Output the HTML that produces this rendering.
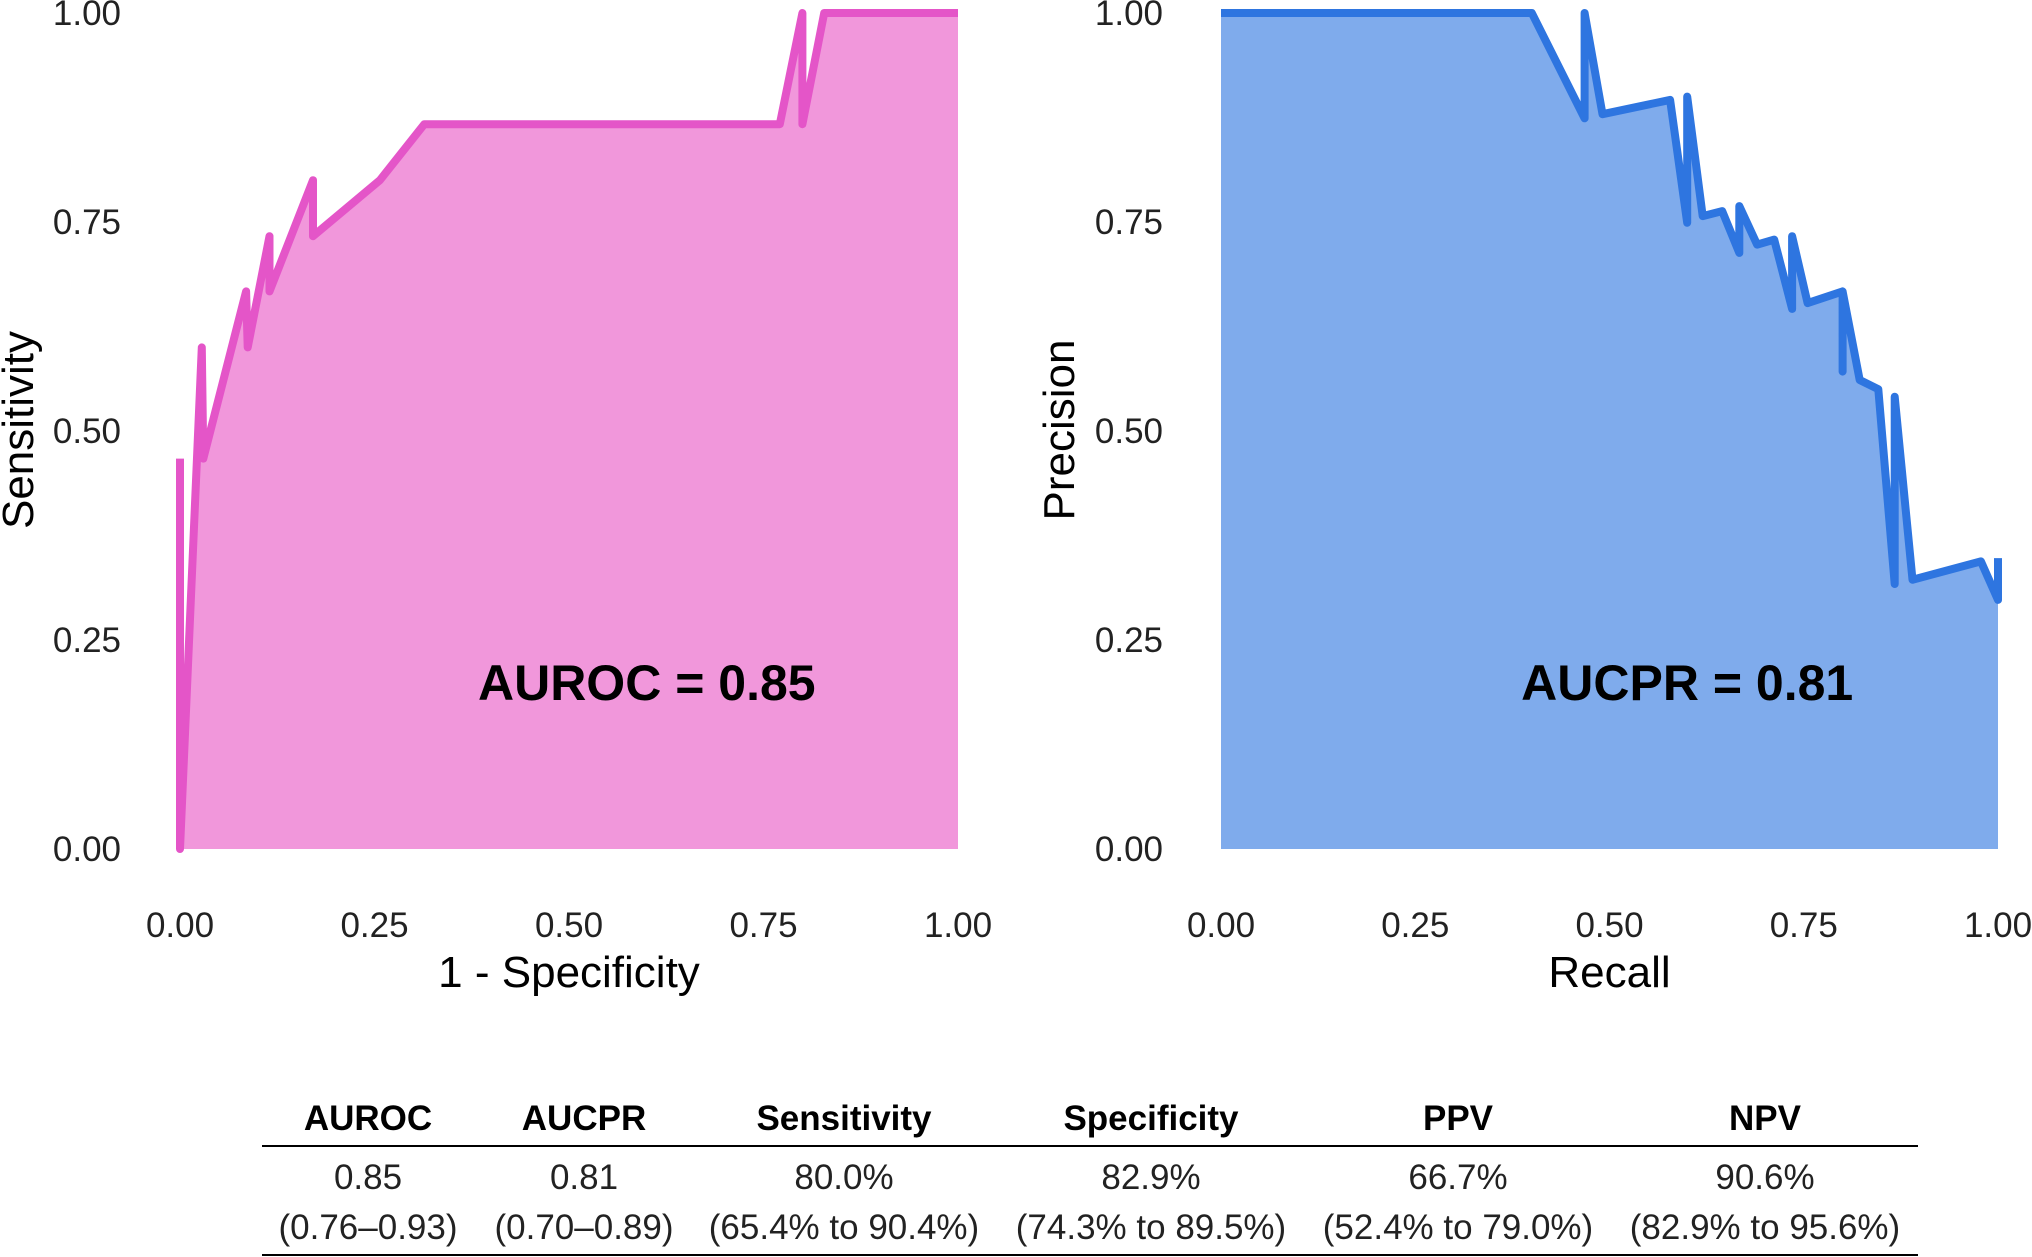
<!DOCTYPE html>
<html><head><meta charset="utf-8"><style>
html,body{margin:0;padding:0;background:#fff}
svg{display:block;font-family:"Liberation Sans",Arial,sans-serif}
</style></head><body>
<svg id="chart" width="2032" height="1257" viewBox="0 0 2032 1257" xmlns="http://www.w3.org/2000/svg"></svg>
<script>
// ROC data
const rocFpr = [0,0,0.028,0.030,0.085,0.087,0.115,0.115,0.171,0.171,0.257,0.314,0.771,0.8,0.8,0.828,1];
const rocTpr = [0.467,0,0.6,0.467,0.667,0.6,0.733,0.667,0.8,0.733,0.8,0.867,0.867,1,0.867,1,1];
// PR data
const prRecall = [0,0.4,0.468,0.468,0.491,0.578,0.6,0.6,0.62,0.645,0.667,0.667,0.69,0.712,0.735,0.735,0.755,0.8,0.8,0.8,0.822,0.846,0.867,0.867,0.89,0.978,1,1];
const prPrecision = [1,1,0.874,1,0.879,0.896,0.749,0.9,0.757,0.763,0.713,0.769,0.723,0.729,0.646,0.733,0.653,0.667,0.571,0.667,0.561,0.55,0.317,0.541,0.322,0.344,0.298,0.348];
const tickVals = [0,0.25,0.5,0.75,1];
const tickLabels = ["0.00","0.25","0.50","0.75","1.00"];
const tableHeaders = ["AUROC","AUCPR","Sensitivity","Specificity","PPV","NPV"];
const tableRow1 = ["0.85","0.81","80.0%","82.9%","66.7%","90.6%"];
const tableRow2 = ["(0.76–0.93)","(0.70–0.89)","(65.4% to 90.4%)","(74.3% to 89.5%)","(52.4% to 79.0%)","(82.9% to 95.6%)"];

const NS="http://www.w3.org/2000/svg";
const svg=document.getElementById('chart');
function el(tag,attrs,text){const e=document.createElementNS(NS,tag);for(const k in attrs)e.setAttribute(k,attrs[k]);if(text!==undefined)e.textContent=text;svg.appendChild(e);return e;}

const yTop=13,yBot=849;
function panel(x0,x1,xs,ys,fill,stroke,xTitle,yTitle,yTitleX,tickRight,label,prefix){
  const sx=v=>x0+v*(x1-x0), sy=v=>yBot-v*(yBot-yTop);
  let pts=xs.map((v,i)=>sx(v).toFixed(1)+','+sy(ys[i]).toFixed(1));
  const area=el('polygon',{points:sx(xs[0])+','+sy(0)+' '+pts.join(' ')+' '+sx(xs[xs.length-1])+','+sy(0),fill:fill});
  
  
  const line=el('polyline',{points:pts.join(' '),fill:'none',stroke:stroke,'stroke-width':8,'stroke-linejoin':'round'});
  
  
  tickVals.forEach((v,i)=>{
    const t=el('text',{x:tickRight,y:sy(v)+12,'text-anchor':'end','font-size':35,fill:'#222'},tickLabels[i]);
    
    
    const u=el('text',{x:sx(v),y:937,'text-anchor':'middle','font-size':35,fill:'#222'},tickLabels[i]);
    
    
  });
  const xt=el('text',{x:(x0+x1)/2,y:987,'text-anchor':'middle','font-size':44,fill:'#000'},xTitle);
  
  
  const yt=el('text',{x:yTitleX,y:430,'text-anchor':'middle','font-size':44,fill:'#000',transform:'rotate(-90 '+yTitleX+' 430)'},yTitle);
  
  
  const lb=el('text',{x:sx(0.6),y:700,'text-anchor':'middle','font-size':50,'font-weight':'bold',fill:'#000'},label);
  
  
}
panel(180,958,rocFpr,rocTpr,'#f197db','#e455c8','1 - Specificity','Sensitivity',33,121,'AUROC = 0.85','roc');
panel(1221,1998,prRecall,prPrecision,'#7fabec','#2e75e0','Recall','Precision',1074,1163,'AUCPR = 0.81','pr');

// table
const colX=[368,584,844,1151,1458,1765];
const l1=el('line',{x1:262,x2:1918,y1:1146,y2:1146,stroke:'#000','stroke-width':2});


const l2=el('line',{x1:262,x2:1918,y1:1255,y2:1255,stroke:'#000','stroke-width':2});


colX.forEach((x,i)=>{
  const h=el('text',{x:x,y:1130,'text-anchor':'middle','font-size':35,'font-weight':'bold',fill:'#000'},tableHeaders[i]);
  
  
  const a=el('text',{x:x,y:1189,'text-anchor':'middle','font-size':35,fill:'#222'},tableRow1[i]);
  
  
  const b=el('text',{x:x,y:1239,'text-anchor':'middle','font-size':35,fill:'#222'},tableRow2[i]);
  
  
});
</script>
</body></html>
